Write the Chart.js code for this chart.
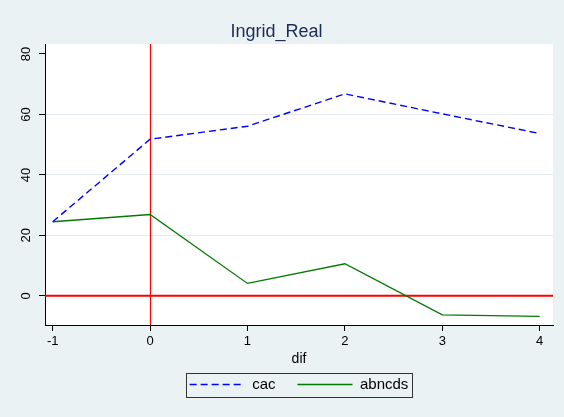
<!DOCTYPE html>
<html>
<head>
<meta charset="utf-8">
<script src="https://cdn.jsdelivr.net/npm/chart.js@4/dist/chart.umd.min.js"></script>
<style>
  html, body { margin: 0; padding: 0; background: #eaf2f3; }
  #wrap { width: 564px; height: 417px; }
</style>
</head>
<body>
<div id="wrap"><canvas id="c" width="564" height="417"></canvas></div>
<script>
const difValues = [-1, 0, 1, 2, 3, 4];
const cacValues = [24.5, 51.8, 56.1, 66.8, 60.2, 53.7];
const abncdsValues = [24.5, 26.9, 4.1, 10.6, -6.3, -6.8];
const xTickValues = [-1, 0, 1, 2, 3, 4];
const yTickValues = [0, 20, 40, 60, 80];
const titleText = 'Ingrid_Real';
const xTitleText = 'dif';
const seriesNames = ['cac', 'abncds'];

const FONT = '"Liberation Sans", Arial, Helvetica, sans-serif';

const stataPlugin = {
  id: 'stata',
  beforeDraw(chart) {
    const ctx = chart.ctx;
    const a = chart.chartArea;
    ctx.save();
    ctx.fillStyle = '#eaf2f3';
    ctx.fillRect(0, 0, chart.width, chart.height);
    ctx.fillStyle = '#ffffff';
    ctx.fillRect(a.left, a.top, a.right - a.left, a.bottom - a.top);
    ctx.restore();
  },
  beforeDatasetsDraw(chart) {
    const ctx = chart.ctx;
    const a = chart.chartArea;
    const xs = chart.scales.x, ys = chart.scales.y;
    ctx.save();
    ctx.strokeStyle = '#ff0000';
    ctx.lineWidth = 2;
    const y0 = ys.getPixelForValue(0);
    ctx.beginPath();
    ctx.moveTo(a.left, y0);
    ctx.lineTo(a.right, y0);
    ctx.stroke();
    ctx.lineWidth = 1.2;
    const x0 = Math.round(xs.getPixelForValue(0)) + 0.5;
    ctx.beginPath();
    ctx.moveTo(x0, a.top);
    ctx.lineTo(x0, a.bottom);
    ctx.stroke();
    ctx.restore();
  },
  afterDraw(chart) {
    const lg = chart.legend;
    if (!lg || !lg.legendHitBoxes || !lg.legendHitBoxes.length) return;
    const hb = lg.legendHitBoxes;
    const first = hb[0], last = hb[hb.length - 1];
    const cy = first.top + first.height / 2;
    const left = first.left - 4;
    const right = last.left + last.width + 3;
    const ctx = chart.ctx;
    ctx.save();
    ctx.strokeStyle = '#333333';
    ctx.lineWidth = 1;
    ctx.strokeRect(Math.round(left) + 0.5, Math.round(cy - 12) + 0.5, Math.round(right - left), 24);
    ctx.restore();
  }
};

const cfg = {
  type: 'line',
  data: {
    datasets: [
      {
        label: seriesNames[0],
        data: difValues.map((x, i) => ({ x: x, y: cacValues[i] })),
        borderColor: '#0000ff',
        borderWidth: 1.4,
        borderDash: [7, 4],
        pointRadius: 0,
        fill: false,
        tension: 0
      },
      {
        label: seriesNames[1],
        data: difValues.map((x, i) => ({ x: x, y: abncdsValues[i] })),
        borderColor: '#007a00',
        borderWidth: 1.3,
        pointRadius: 0,
        fill: false,
        tension: 0
      }
    ]
  },
  options: {
    responsive: false,
    animation: false,
    devicePixelRatio: 1,
    layout: { padding: { left: 0, right: 11, top: 0, bottom: 15 } },
    plugins: {
      title: {
        display: true,
        text: titleText,
        fullSize: true,
        color: '#1c2d58',
        font: { family: FONT, size: 18, weight: 'normal', lineHeight: 1.2 },
        padding: { top: 21, bottom: 1.4 }
      },
      legend: {
        display: true,
        position: 'bottom',
        fullSize: false,
        labels: {
          usePointStyle: true,
          pointStyle: 'line',
          pointStyleWidth: 55,
          padding: 22,
          color: '#000000',
          font: { family: FONT, size: 15 },
          generateLabels: (chart) => chart.data.datasets.map((ds, i) => ({
            text: ds.label,
            fillStyle: ds.borderColor,
            strokeStyle: ds.borderColor,
            lineWidth: ds.borderWidth,
            lineDash: ds.borderDash || [],
            pointStyle: 'line',
            fontColor: '#000000',
            hidden: !chart.isDatasetVisible(i),
            datasetIndex: i
          }))
        }
      },
      tooltip: { enabled: false }
    },
    scales: {
      x: {
        type: 'linear',
        min: -1.079,
        max: 4.137,
        afterBuildTicks: (s) => { s.ticks = xTickValues.map(v => ({ value: v })); },
        afterFit: (s) => { s.height = 30; },
        ticks: {
          color: '#000000',
          font: { family: FONT, size: 13 },
          padding: 3,
          maxRotation: 0,
          callback: (v) => String(v)
        },
        grid: {
          color: 'rgba(0,0,0,0)',
          drawTicks: true,
          tickLength: 6,
          tickColor: '#000000',
          tickWidth: 1
        },
        border: { display: true, color: '#000000', width: 1 },
        title: {
          display: true,
          text: xTitleText,
          color: '#000000',
          font: { family: FONT, size: 14 },
          padding: { top: 0, bottom: -13 }
        }
      },
      y: {
        type: 'linear',
        min: -9.65,
        max: 83.3,
        afterBuildTicks: (s) => { s.ticks = yTickValues.map(v => ({ value: v })); },
        afterFit: (s) => { s.width = 45; },
        ticks: {
          color: '#000000',
          font: { family: FONT, size: 13 },
          minRotation: 90,
          maxRotation: 90,
          crossAlign: 'center',
          padding: 5,
          callback: (v) => String(v)
        },
        grid: {
          color: (ctx) => {
            const v = ctx.tick && ctx.tick.value;
            return (v === 20 || v === 40 || v === 60) ? '#e3ebee' : 'rgba(0,0,0,0)';
          },
          drawTicks: true,
          tickLength: 6,
          tickColor: '#000000',
          tickWidth: 1
        },
        border: { display: true, color: '#000000', width: 1 }
      }
    }
  },
  plugins: [stataPlugin]
};

new Chart(document.getElementById('c'), cfg);
</script>
</body>
</html>
